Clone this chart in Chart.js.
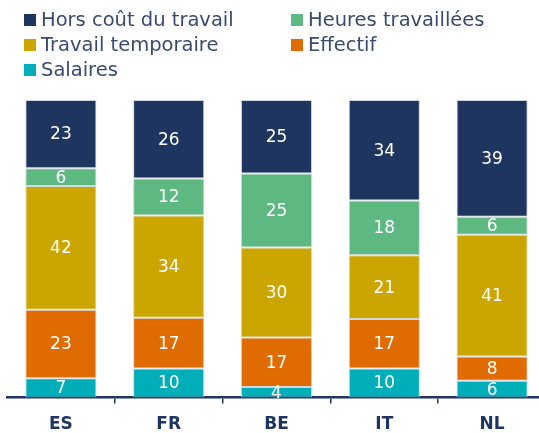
<!DOCTYPE html>
<html>
<head>
<meta charset="utf-8">
<script src="https://cdn.jsdelivr.net/npm/chart.js@4"></script>
<style>
    html, body { margin: 0; background: #fff; overflow: hidden; }
    #wrap { position: relative; width: 539px; height: 433px; overflow: hidden; }
    #chart { position: absolute; left: 0; top: 0; }
    #legend {
        position: absolute; left: 24px; top: 7px;
        display: grid; grid-template-columns: 267px 240px;
        font-family: "DejaVu Sans", sans-serif; font-size: 19.5px; color: #3a4a6e;
    }
    .item { display: flex; align-items: center; height: 25px; white-space: nowrap; }
    .box { width: 12px; height: 12px; margin-right: 5px; flex: none; }
</style>
</head>
<body>
<div id="wrap">
    <canvas id="chart" width="546" height="446"></canvas>
    <div id="legend"></div>
</div>
<script>
const categories = ['ES', 'FR', 'BE', 'IT', 'NL'];

// shares in %, bottom to top (labels shown rounded)
const salaires = [6.5, 9.8, 3.6, 9.8, 5.7];
const effectif = [23.0, 17.0, 16.6, 16.6, 8.1];
const travailTemporaire = [41.6, 34.4, 30.2, 21.4, 40.9];
const heuresTravaillees = [6.0, 12.4, 24.9, 18.4, 6.1];
const horsCout = [22.9, 26.4, 24.7, 33.8, 39.2];

const navy = '#1e3560';

// legend order in the picture
const legendOrder = [4, 3, 2, 1, 0];

const valueLabels = {
    id: 'valueLabels',
    afterDatasetsDraw(chart) {
        const ctx = chart.ctx;
        ctx.save();
        ctx.fillStyle = '#fff';
        ctx.font = '17px "DejaVu Sans"';
        ctx.textAlign = 'center';
        ctx.textBaseline = 'middle';
        chart.data.datasets.forEach((ds, i) => {
            chart.getDatasetMeta(i).data.forEach((bar, j) => {
                const y = (bar.y + bar.base) / 2;
                ctx.fillText(Math.round(ds.data[j]), bar.x, y + 1);
            });
        });
        ctx.restore();
    }
};

const ctx = document.getElementById('chart').getContext('2d');
const chart = new Chart(ctx, {
    type: 'bar',
    data: {
        labels: categories,
        datasets: [
            { label: 'Salaires', data: salaires, backgroundColor: '#00aeba' },
            { label: 'Effectif', data: effectif, backgroundColor: '#e06b00' },
            { label: 'Travail temporaire', data: travailTemporaire, backgroundColor: '#cba600' },
            { label: 'Heures travaillées', data: heuresTravaillees, backgroundColor: '#5db882' },
            { label: 'Hors coût du travail', data: horsCout, backgroundColor: navy }
        ].map(d => Object.assign(d, {
            borderColor: 'rgba(200,205,212,0.8)',
            borderWidth: 1,
            borderSkipped: false,
            categoryPercentage: 0.66,
            barPercentage: 1
        }))
    },
    options: {
        responsive: false,
        animation: false,
        layout: { padding: { top: 100, left: 7, right: 0, bottom: 0 } },
        plugins: {
            legend: { display: false },
            tooltip: { enabled: false }
        },
        scales: {
            x: {
                stacked: true,
                offset: true,
                grid: {
                    offset: true,
                    drawOnChartArea: false,
                    drawTicks: true,
                    tickLength: 6,
                    color: c => (c.index === 0 || c.index === categories.length) ? 'rgba(0,0,0,0)' : navy,
                    lineWidth: 1.5
                },
                border: { display: true, color: navy, width: 2.5 },
                ticks: {
                    color: navy,
                    padding: 11,
                    font: { family: 'DejaVu Sans', size: 17, weight: 'bold' }
                }
            },
            y: {
                stacked: true,
                display: false,
                min: 0,
                max: 100
            }
        }
    },
    plugins: [valueLabels]
});

const legendEl = document.getElementById('legend');
legendOrder.forEach(i => {
    const ds = chart.data.datasets[i];
    const item = document.createElement('div');
    item.className = 'item';
    item.innerHTML = '<span class="box" style="background:' + ds.backgroundColor + '"></span>' + ds.label;
    legendEl.appendChild(item);
});
</script>
</body>
</html>
